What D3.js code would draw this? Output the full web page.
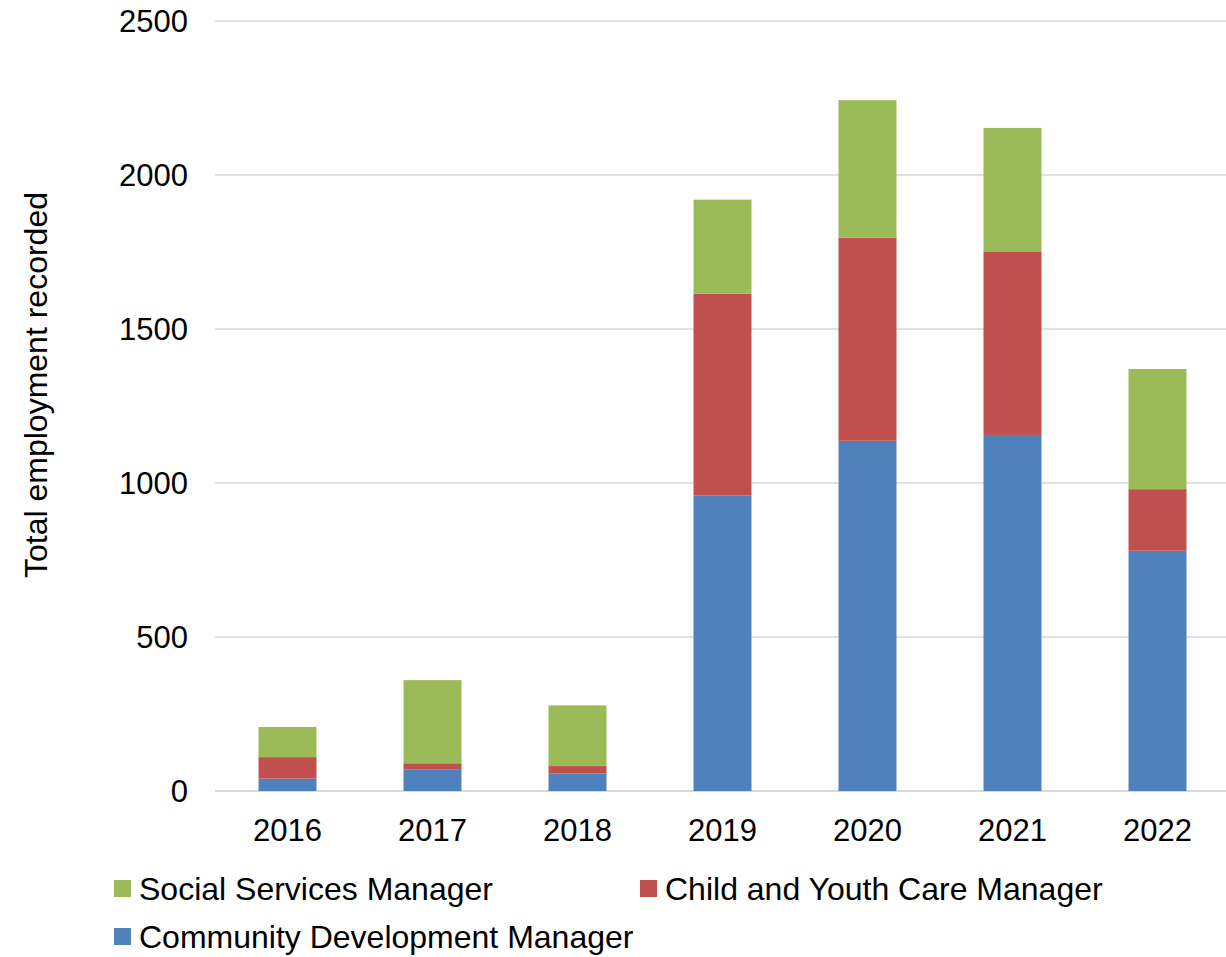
<!DOCTYPE html>
<html>
<head>
<meta charset="utf-8">
<script src="https://cdn.jsdelivr.net/npm/d3@7"></script>
<style>
  body { margin: 0; background: #fff; }
  text { font-family: "Liberation Sans", Arial, sans-serif; fill: #000; }
</style>
</head>
<body>
<div id="vis"></div>
<script>
const WIDTH = 1226;
const HEIGHT = 957;
const MARGINS = {left: 215, right: -4, top: 21, bottom: 166};

// data
const years = ["2016", "2017", "2018", "2019", "2020", "2021", "2022"];
const community = [40, 69, 57, 959, 1137, 1156, 780];
const childYouth = [70, 21, 24, 656, 660, 596, 200];
const socialServices = [98, 270, 197, 305, 446, 401, 390];
const seriesNames = ["Community Development Manager", "Child and Youth Care Manager", "Social Services Manager"];
const seriesColors = ["#4F81BD", "#C0504D", "#9BBB59"];
const yTicks = [0, 500, 1000, 1500, 2000, 2500];

const rows = years.map((y, i) => ({
  year: y,
  c0: community[i],
  c1: childYouth[i],
  c2: socialServices[i]
}));

const svg = d3.select("#vis")
  .append("svg")
    .attr("width", WIDTH)
    .attr("height", HEIGHT);

const plotW = WIDTH - MARGINS.left - MARGINS.right;
const plotH = HEIGHT - MARGINS.top - MARGINS.bottom;

const x = d3.scaleBand().domain(years).range([0, plotW]).paddingInner(0.6).paddingOuter(0.3);
const y = d3.scaleLinear().domain([0, 2500]).range([plotH, 0]);

const g = svg.append("g").attr("transform", `translate(${MARGINS.left},${MARGINS.top})`);

// gridlines
g.append("g")
  .selectAll("line")
  .data(yTicks)
  .enter()
  .append("line")
    .attr("x1", 0)
    .attr("x2", plotW)
    .attr("y1", d => y(d))
    .attr("y2", d => y(d))
    .attr("stroke", "#D9D9D9")
    .attr("stroke-width", d => d === 0 ? 2 : 1.5);

// y tick labels
g.append("g")
  .selectAll("text")
  .data(yTicks)
  .enter()
  .append("text")
    .attr("x", -27)
    .attr("y", d => y(d))
    .attr("dy", "0.36em")
    .attr("text-anchor", "end")
    .attr("font-size", "31px")
    .text(d => d);

// stacked bars
const stack = d3.stack().keys(["c0", "c1", "c2"]);
const layers = stack(rows);

g.selectAll(".layer")
  .data(layers)
  .enter()
  .append("g")
    .attr("class", "layer")
    .attr("fill", (d, i) => seriesColors[i])
  .selectAll("rect")
  .data(d => d)
  .enter()
  .append("rect")
    .attr("x", d => x(d.data.year))
    .attr("y", d => y(d[1]))
    .attr("width", x.bandwidth())
    .attr("height", d => y(d[0]) - y(d[1]));

// x labels
g.append("g")
  .selectAll("text")
  .data(years)
  .enter()
  .append("text")
    .attr("x", d => x(d) + x.bandwidth() / 2)
    .attr("y", plotH + 50)
    .attr("text-anchor", "middle")
    .attr("font-size", "31px")
    .text(d => d);

// y title
svg.append("text")
  .attr("transform", "translate(47,385) rotate(-90)")
  .attr("text-anchor", "middle")
  .attr("font-size", "32px")
  .text("Total employment recorded");

// legend
const legendItems = [
  {name: seriesNames[2], color: seriesColors[2], x: 114, y: 888},
  {name: seriesNames[1], color: seriesColors[1], x: 640, y: 888},
  {name: seriesNames[0], color: seriesColors[0], x: 114, y: 936}
];
const legend = svg.append("g")
  .selectAll("g")
  .data(legendItems)
  .enter()
  .append("g")
    .attr("transform", d => `translate(${d.x},${d.y})`);
legend.append("rect")
  .attr("x", 0)
  .attr("y", -8)
  .attr("width", 17)
  .attr("height", 17)
  .attr("fill", d => d.color);
legend.append("text")
  .attr("x", 25)
  .attr("y", 0)
  .attr("dy", "0.36em")
  .attr("font-size", "32px")
  .text(d => d.name);
</script>
</body>
</html>
